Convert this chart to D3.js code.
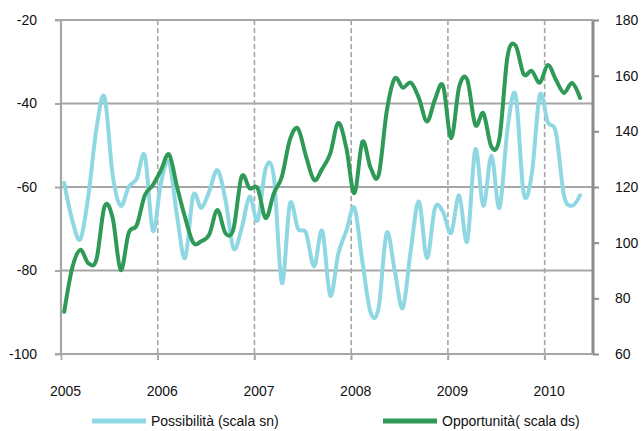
<!DOCTYPE html>
<html>
<head>
<meta charset="utf-8">
<script src="https://cdn.jsdelivr.net/npm/d3@7"></script>
<style>
  html, body { margin: 0; padding: 0; background: #fff; }
  svg { display: block; font-family: "Liberation Sans", Arial, sans-serif; }
</style>
</head>
<body>
<svg id="chart" width="642" height="431"></svg>
<script>
// ---- data (monthly, Jan 2005 .. May 2010) ----
const startYear = 2005;
const yearLabels = ["2005", "2006", "2007", "2008", "2009", "2010"];
const leftTicks = [-100, -80, -60, -40, -20];
const rightTicks = [60, 80, 100, 120, 140, 160, 180];
const seriesNames = ["Possibilità (scala sn)", "Opportunità( scala ds)"];

const possibilita = [
  -59, -68, -72.5, -62, -46, -38.5, -57, -64.5, -60, -58, -52.5, -70.5,
  -59, -54, -67, -77, -62, -65, -61, -56, -63, -74.7, -70, -62.3,
  -68, -55.5, -57.5, -83, -64, -70, -71, -79, -70.5, -86, -76, -70.5,
  -65, -78, -90, -89, -71, -80, -89, -75, -63.5, -77, -65, -66,
  -71, -62, -73, -51, -64.5, -52.5, -65, -46, -38, -61.5, -57, -38,
  -44.5, -47, -62, -64.5, -62
];
const opportunita = [
  75.2, 91, 97.4, 92.6, 94, 113, 109, 90.2, 103.5, 106.3, 117, 120.7,
  126, 131.7, 120, 109, 100, 100.5, 103, 111.7, 103.4, 105, 123.7, 119.5,
  119.5, 108.8, 117.7, 123.7, 137, 141, 131, 122.5, 126.5, 132, 143, 134,
  117.8, 136.3, 127, 124.2, 147, 159, 155.7, 157.5, 152, 143.5, 151.5, 156.4,
  137.5, 156, 158.5, 142.3, 146.5, 134.4, 137.6, 167, 170.8, 160.5, 161.7, 157.5,
  163.8, 158.5, 153.8, 157.4, 152
];

// ---- layout ----
const svg = d3.select("#chart");
const L = 61, R = 593, T = 20, B = 354;
const gridColor = "#a6a6a6";
const blue = "#8fd8e3";
const green = "#2f9a57";

// month-index scale: 66 months (Jan 2005 .. Jun 2010)
const x = d3.scaleLinear().domain([0, 66]).range([L, R]);
const yL = d3.scaleLinear().domain([-100, -20]).range([B, T]);
const yR = d3.scaleLinear().domain([60, 180]).range([B, T]);
const pointOffset = 0.4;
const fmt = d => String(d);

// horizontal grid (left ticks)
svg.append("g").selectAll("line")
  .data(leftTicks.filter(d => d > -100))
  .join("line")
  .attr("x1", L).attr("x2", R)
  .attr("y1", d => yL(d)).attr("y2", d => yL(d))
  .attr("stroke", gridColor).attr("stroke-width", 2);

// vertical dashed year lines
const yearIdx = yearLabels.map((d, i) => i * 12);
svg.append("g").selectAll("line")
  .data(yearIdx.slice(1))
  .join("line")
  .attr("x1", d => x(d)).attr("x2", d => x(d))
  .attr("y1", T).attr("y2", B + 6)
  .attr("stroke", gridColor).attr("stroke-width", 1.6)
  .attr("stroke-dasharray", "5,3");

// left axis
const gL = svg.append("g").attr("transform", `translate(${L},0)`)
  .call(d3.axisLeft(yL).tickValues(leftTicks).tickSize(6).tickPadding(18).tickFormat(fmt));
gL.select(".domain").attr("stroke", gridColor).attr("stroke-width", 2.2).attr("d", `M-6,${B}H0V${T}H-6`);
gL.selectAll(".tick line").attr("stroke", gridColor).attr("stroke-width", 2);

// right axis
const gR = svg.append("g").attr("transform", `translate(${R},0)`)
  .call(d3.axisRight(yR).tickValues(rightTicks).tickSize(6).tickPadding(16).tickFormat(fmt));
gR.select(".domain").attr("stroke", "#8c8c8c").attr("stroke-width", 3).attr("d", `M0,${B}V${T}`);
gR.selectAll(".tick line").attr("stroke", "#8c8c8c").attr("stroke-width", 2);

// bottom axis
const gB = svg.append("g").attr("transform", `translate(0,${B})`)
  .call(d3.axisBottom(x).tickValues(yearIdx).tickSize(6).tickPadding(26)
    .tickFormat((d, i) => yearLabels[i]));
gB.select(".domain").attr("stroke", gridColor).attr("stroke-width", 2.2).attr("d", `M${L},0H${R}`);
gB.selectAll(".tick line").attr("stroke", gridColor).attr("stroke-width", 1.6);
gB.selectAll(".tick text").attr("dx", 4);

svg.selectAll(".tick text").attr("font-size", 14).attr("fill", "#111")
  .attr("font-family", "'Liberation Sans', Arial, sans-serif");

// top border (-20 line)
svg.append("line").attr("x1", L).attr("x2", R).attr("y1", yL(-20)).attr("y2", yL(-20))
  .attr("stroke", gridColor).attr("stroke-width", 2);

// series lines
const curve = d3.curveCardinal.tension(0);
const lineL = d3.line().x((d, i) => x(i + pointOffset)).y(d => yL(d)).curve(curve);
const lineR = d3.line().x((d, i) => x(i + pointOffset)).y(d => yR(d)).curve(curve);

svg.append("path").datum(possibilita).attr("d", lineL)
  .attr("fill", "none").attr("stroke", blue).attr("stroke-width", 4)
  .attr("stroke-linejoin", "round").attr("stroke-linecap", "round");
svg.append("path").datum(opportunita).attr("d", lineR)
  .attr("fill", "none").attr("stroke", green).attr("stroke-width", 4)
  .attr("stroke-linejoin", "round").attr("stroke-linecap", "round");

// legend
const legend = svg.append("g");
const legendItems = [
  { name: seriesNames[0], color: blue, x0: 92 },
  { name: seriesNames[1], color: green, x0: 383 }
];
legendItems.forEach(it => {
  legend.append("line").attr("x1", it.x0).attr("x2", it.x0 + 54)
    .attr("y1", 421).attr("y2", 421)
    .attr("stroke", it.color).attr("stroke-width", 5);
  legend.append("text").attr("x", it.x0 + 59).attr("y", 426)
    .attr("font-size", 14).attr("fill", "#111").text(it.name);
});
</script>
</body>
</html>
